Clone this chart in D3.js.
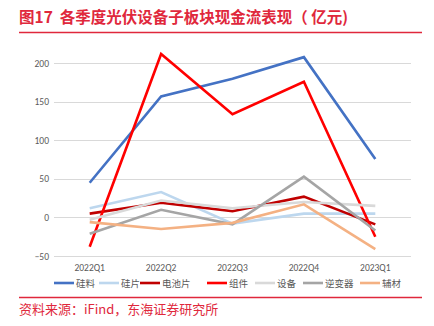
<!DOCTYPE html>
<html><head><meta charset="utf-8">
<script src="https://cdn.jsdelivr.net/npm/d3@7"></script>
<style>body{margin:0;background:#fff;}svg{display:block;font-family:"Noto Sans CJK SC","DejaVu Sans",sans-serif;}</style>
</head><body><svg id="c" width="434" height="326"></svg>
<script>
const quarters = ["2022Q1","2022Q2","2022Q3","2022Q4","2023Q1"];
const seriesNames = ["硅料","硅片","电池片","组件","设备","逆变器","辅材"];
const seriesColors = ["#4472c4","#bdd7ee","#c00000","#ff0000","#d9d9d9","#a5a5a5","#f4b183"];
const siliconMaterial = [45, 157, 180, 208, 76];
const wafer = [12, 33, -8, 5, 5];
const cell = [5, 19, 8, 27, -9];
const module_ = [-38, 212, 134, 176, -25];
const equipment = [-3, 22, 12, 20, 15];
const inverter = [-21, 10, -9, 53, -17];
const auxMaterial = [-6, -15, -7, 17, -41];
const yTicks = [-50, 0, 50, 100, 150, 200];
const seriesValues = [siliconMaterial, wafer, cell, module_, equipment, inverter, auxMaterial];

const svg = d3.select("#c");
const red = "#e0283c";
// title
svg.append("text").attr("x",19).attr("y",23).attr("fill",red).attr("font-size",15.5).attr("font-weight","bold")
  .style("white-space","pre")
  .text("图17  各季度光伏设备子板块现金流表现（ 亿元)");
svg.append("line").attr("x1",19).attr("x2",422).attr("y1",32.5).attr("y2",32.5).attr("stroke",red).attr("stroke-width",1.5);
svg.append("line").attr("x1",19).attr("x2",422).attr("y1",297.5).attr("y2",297.5).attr("stroke",red).attr("stroke-width",1.5);
svg.append("text").attr("x",19).attr("y",314).attr("fill",red).attr("font-size",13).text("资料来源：iFind，东海证券研究所");

const x = d3.scaleBand().domain(quarters).range([54,411]);
const y = d3.scaleLinear().domain([-50,200]).range([256,63.3]);

// gridlines
svg.append("g").selectAll("line").data(yTicks).join("line")
  .attr("x1",54).attr("x2",411).attr("y1",d=>Math.round(y(d))+0.5).attr("y2",d=>Math.round(y(d))+0.5)
  .attr("stroke","#d9d9d9").attr("stroke-width",1);

const yAxis = svg.append("g").attr("transform","translate(49,0)")
  .call(d3.axisLeft(y).tickValues(yTicks).tickSize(0).tickPadding(0));
yAxis.select(".domain").remove();
yAxis.selectAll("text").attr("fill","#595959").attr("font-size",9.5).attr("font-family","Calibri, 'Liberation Sans', sans-serif");

const xAxis = svg.append("g").attr("transform","translate(0,264)")
  .call(d3.axisBottom(x).tickSize(0).tickPadding(0));
xAxis.select(".domain").remove();
xAxis.selectAll("text").attr("fill","#595959").attr("font-size",9.5).attr("font-family","Calibri, 'Liberation Sans', sans-serif");

const line = d3.line().x((d,i)=>x(quarters[i])+x.bandwidth()/2).y(d=>y(d));
svg.append("g").selectAll("path").data(seriesValues).join("path")
  .attr("d",d=>line(d)).attr("fill","none")
  .attr("stroke",(d,i)=>seriesColors[i]).attr("stroke-width",2.6).attr("stroke-linejoin","miter");

// legend
const legendX = [54,99,140,207,255,303,360];
const lg = svg.append("g").selectAll("g").data(seriesNames).join("g")
  .attr("transform",(d,i)=>`translate(${legendX[i]},283)`);
lg.append("line").attr("x1",0).attr("x2",20).attr("y1",0).attr("y2",0)
  .attr("stroke",(d,i)=>seriesColors[i]).attr("stroke-width",2.6);
lg.append("text").attr("x",22).attr("y",3.5).attr("font-size",9.5).attr("fill","#595959").text(d=>d);
</script></body></html>
